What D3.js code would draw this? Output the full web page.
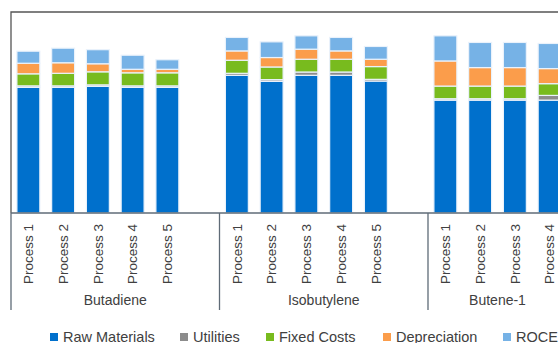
<!DOCTYPE html>
<html>
<head>
<meta charset="utf-8">
<script src="https://cdn.jsdelivr.net/npm/d3@7"></script>
<style>
  body { margin: 0; background: #fff; }
  svg { display: block; font-family: "Liberation Sans", Arial, sans-serif; }
</style>
</head>
<body>
<svg id="chart" width="558" height="343"></svg>
<script>
// categories (group, process); "" = empty spacer slot
var groups = ["Butadiene", "Isobutylene", "Butene-1"];
var processes = [
    ["Process 1", "Process 2", "Process 3", "Process 4", "Process 5", ""],
    ["Process 1", "Process 2", "Process 3", "Process 4", "Process 5", ""],
    ["Process 1", "Process 2", "Process 3", "Process 4"]
];

var seriesNames = ["Raw Materials", "Utilities", "Fixed Costs", "Depreciation", "ROCE"];
var seriesColors = ["#0070cc", "#8c8c8c", "#78bb1e", "#fb9d4b", "#76b2e6"];

// values, one per real process (Butadiene 1-5, Isobutylene 1-5, Butene-1 1-4)
var rawMaterials = [125, 125, 126, 125, 125, 137, 131, 137, 137, 131.3, 112.3, 112.3, 112.3, 112.3];
var utilities    = [1.5, 1.5, 1.5, 1.5, 1.5, 2, 1.7, 3.3, 3.3, 1.7, 1.4, 1.4, 1.4, 4.7];
var fixedCosts   = [12, 12.5, 13, 13, 13, 13, 12.6, 12.7, 12.7, 12.7, 12.6, 12.6, 12.6, 11.7];
var depreciation = [10.5, 10.5, 8, 3.5, 3.5, 9.3, 9.4, 10, 8.3, 7.3, 25, 18.4, 18.4, 15];
var roce         = [12, 14.5, 14, 14, 9.5, 13.4, 15.6, 13.3, 13.4, 12.7, 25, 25, 25, 25];

var svg = d3.select("#chart");
var leftX = 11, topY = 12, baseY = 213, slotW = 34.75;

// build slot list
var slots = [];
var k = 0;
groups.forEach(function(g, gi) {
    processes[gi].forEach(function(p, pi) {
        var row = { key: g + "|" + pi, group: g, label: p };
        if (p !== "") {
            row["Raw Materials"] = rawMaterials[k];
            row["Utilities"] = utilities[k];
            row["Fixed Costs"] = fixedCosts[k];
            row["Depreciation"] = depreciation[k];
            row["ROCE"] = roce[k];
            k++;
        } else {
            seriesNames.forEach(function(s) { row[s] = 0; });
        }
        slots.push(row);
    });
});

var rightX = leftX + slots.length * slotW;

var x = d3.scaleBand()
    .domain(slots.map(function(d) { return d.key; }))
    .range([leftX, rightX])
    .paddingInner(0.34)
    .paddingOuter(0.17);

var y = d3.scaleLinear().domain([0, 200]).range([baseY, topY]);

var color = d3.scaleOrdinal().domain(seriesNames).range(seriesColors);

var stack = d3.stack().keys(seriesNames);
var layers = stack(slots.filter(function(d) { return d.label !== ""; }));

// frame
svg.append("path")
    .attr("d", "M" + leftX + "," + baseY + "V" + topY + "H" + rightX + "V" + baseY)
    .attr("fill", "none")
    .attr("stroke", "#555")
    .attr("stroke-width", 1.3);

// bars
svg.append("g").selectAll("g")
    .data(layers)
    .enter().append("g")
    .attr("fill", function(d) { return color(d.key); })
    .selectAll("rect")
    .data(function(d) { return d; })
    .enter().append("rect")
    .attr("x", function(d) { return x(d.data.key); })
    .attr("width", x.bandwidth())
    .attr("y", function(d) { return y(d[1]); })
    .attr("height", function(d) { return Math.max(0, y(d[0]) - y(d[1])); })
    .attr("stroke", "#eaf2fb")
    .attr("stroke-width", 1.2);

// category axis line
svg.append("line")
    .attr("x1", leftX).attr("x2", rightX)
    .attr("y1", baseY).attr("y2", baseY)
    .attr("stroke", "#5f6b77").attr("stroke-width", 1.3);

// group separators
var sepX = [leftX];
var acc = 0;
processes.forEach(function(p) { acc += p.length; sepX.push(leftX + acc * slotW); });
svg.append("g").selectAll("line")
    .data(sepX)
    .enter().append("line")
    .attr("x1", function(d) { return d; }).attr("x2", function(d) { return d; })
    .attr("y1", baseY).attr("y2", 310)
    .attr("stroke", "#5f6b77").attr("stroke-width", 1.3);

// process labels
svg.append("g").selectAll("text")
    .data(slots.filter(function(d) { return d.label !== ""; }))
    .enter().append("text")
    .attr("transform", function(d) {
        return "translate(" + (x(d.key) + x.bandwidth() / 2) + ",224) rotate(-90)";
    })
    .attr("dy", "0.35em")
    .attr("text-anchor", "end")
    .attr("font-size", 13.5)
    .attr("fill", "#404040")
    .text(function(d) { return d.label; });

// group labels
svg.append("g").selectAll("text")
    .data(groups)
    .enter().append("text")
    .attr("x", function(d, i) { return (sepX[i] + sepX[i + 1]) / 2; })
    .attr("y", 305)
    .attr("text-anchor", "middle")
    .attr("font-size", 14)
    .attr("fill", "#404040")
    .text(function(d) { return d; });

// legend
var legendX = [50, 180, 266, 383, 503];
var legend = svg.append("g").selectAll("g")
    .data(seriesNames)
    .enter().append("g")
    .attr("transform", function(d, i) { return "translate(" + legendX[i] + ",0)"; });
legend.append("rect")
    .attr("x", 0).attr("y", 333)
    .attr("width", 8).attr("height", 8)
    .attr("fill", function(d) { return color(d); });
legend.append("text")
    .attr("x", 13).attr("y", 341.5)
    .attr("font-size", 14.5)
    .attr("fill", "#404040")
    .text(function(d) { return d; });
</script>
</body>
</html>
